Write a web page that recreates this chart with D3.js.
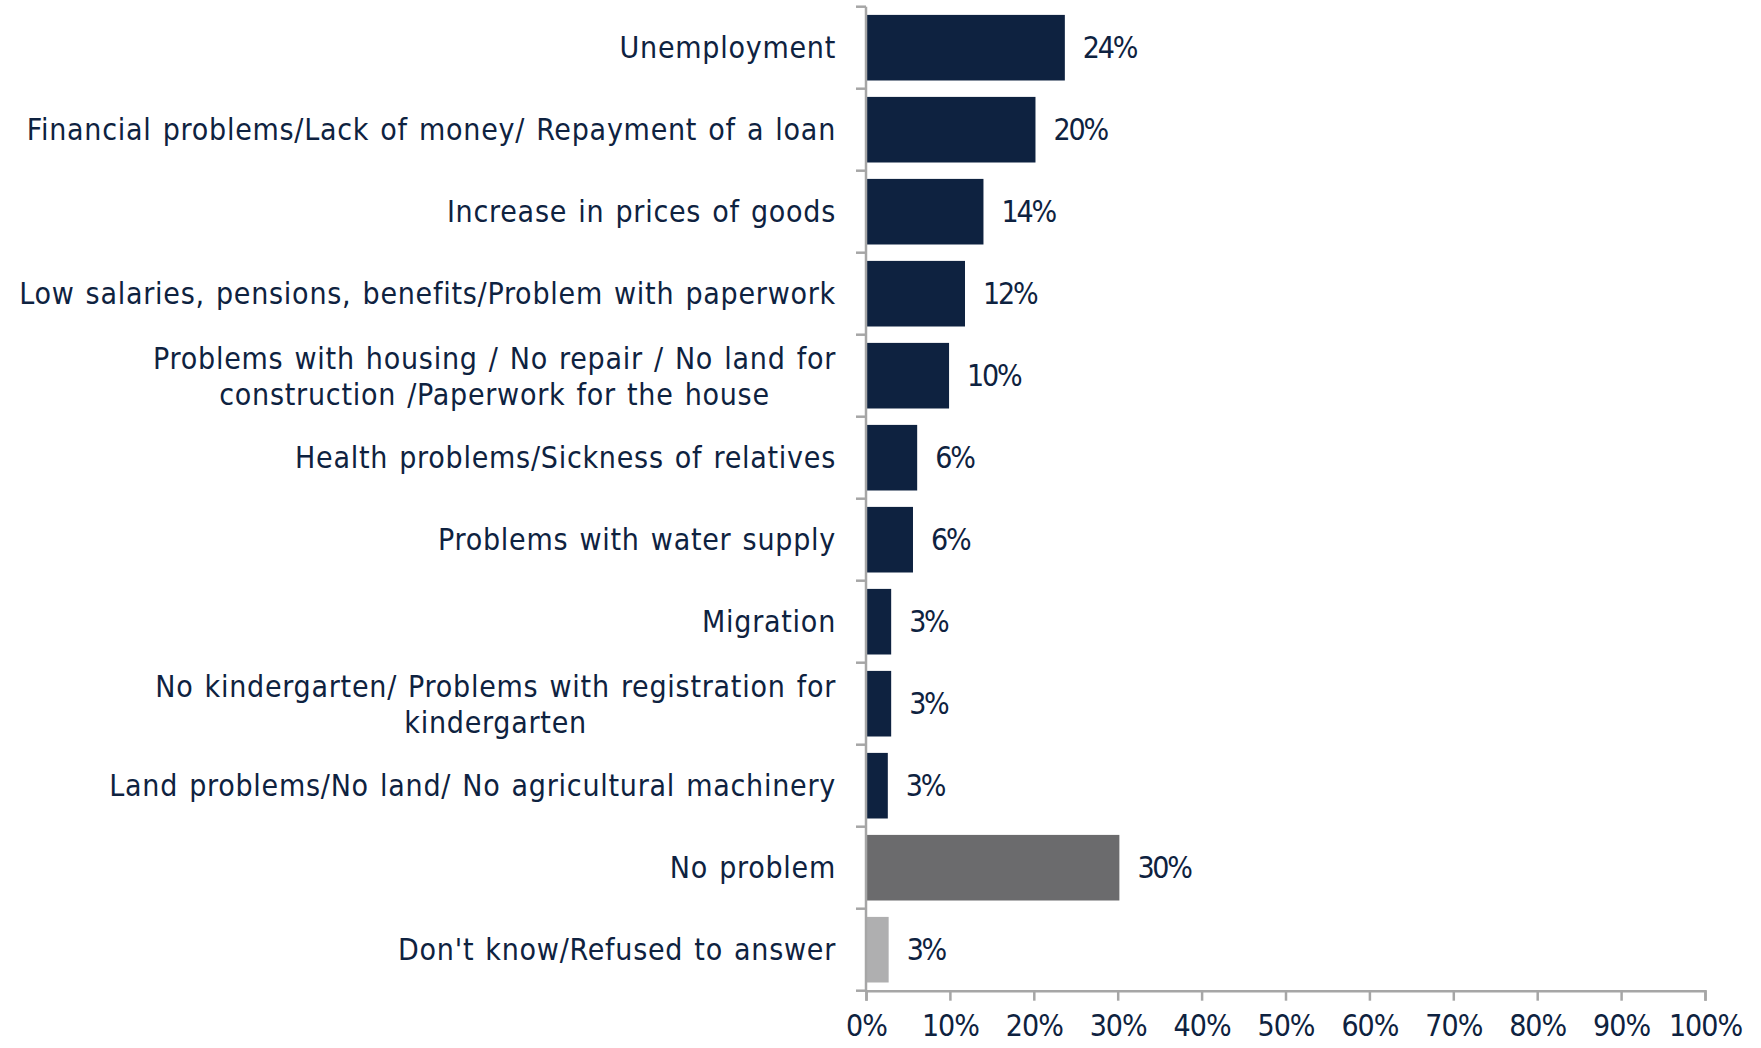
<!DOCTYPE html>
<html>
<head>
<meta charset="utf-8">
<script src="https://cdn.jsdelivr.net/npm/d3@7"></script>
<style>
  html, body { margin: 0; padding: 0; background: #fff; }
  svg { display: block; }
  text { font-family: "DejaVu Sans Condensed", "DejaVu Sans", sans-serif; fill: #0e2240; }
</style>
</head>
<body>
<svg id="chart" width="1761" height="1048"></svg>
<script>
const categories = [
  ["Unemployment"],
  ["Financial problems/Lack of money/ Repayment of a loan"],
  ["Increase in prices of goods"],
  ["Low salaries, pensions, benefits/Problem with paperwork"],
  ["Problems with housing / No repair / No land for", "construction /Paperwork for the house"],
  ["Health problems/Sickness of relatives"],
  ["Problems with water supply"],
  ["Migration"],
  ["No kindergarten/ Problems with registration for", "kindergarten"],
  ["Land problems/No land/ No agricultural machinery"],
  ["No problem"],
  ["Don't know/Refused to answer"]
];
const values = [23.7, 20.2, 14.0, 11.8, 9.9, 6.1, 5.6, 3.0, 3.0, 2.6, 30.2, 2.7];
const valueLabels = ["24%", "20%", "14%", "12%", "10%", "6%", "6%", "3%", "3%", "3%", "30%", "3%"];
const barColors = ["#0e2240", "#0e2240", "#0e2240", "#0e2240", "#0e2240", "#0e2240", "#0e2240", "#0e2240", "#0e2240", "#0e2240", "#6b6b6d", "#afafb0"];
const xTicks = [0, 10, 20, 30, 40, 50, 60, 70, 80, 90, 100];

const svg = d3.select("#chart");
const mLeft = 866, mRight = 1705, mTop = 6.7, mBottom = 990.7;
const fontSize = 30;
const fontFam = '"DejaVu Sans Condensed", "DejaVu Sans", sans-serif';

const x = d3.scaleLinear().domain([0, 100]).range([mLeft, mRight]);
const yb = d3.scaleBand().domain(d3.range(categories.length)).range([mTop, mBottom]);

// bars
svg.append("g").selectAll("rect").data(values).join("rect")
  .attr("x", x(0))
  .attr("y", (d, i) => yb(i) + yb.bandwidth() * 0.1)
  .attr("width", d => x(d) - x(0))
  .attr("height", yb.bandwidth() * 0.8)
  .attr("fill", (d, i) => barColors[i]);

// x axis
const xAxis = d3.axisBottom(x).tickValues(xTicks).tickFormat(d => d + "%").tickSize(10).tickPadding(14);
const gx = svg.append("g").attr("transform", `translate(0,${mBottom})`).call(xAxis);
gx.select(".domain").attr("stroke", "#a6a6a6").attr("stroke-width", 2.5);
gx.selectAll(".tick line").attr("stroke", "#a6a6a6").attr("stroke-width", 2.5);
gx.selectAll(".tick text").attr("font-size", fontSize).attr("fill", "#0e2240").attr("font-family", fontFam)
  .attr("letter-spacing", -1);

// y axis line and ticks at band boundaries
const gy = svg.append("g");
gy.append("line").attr("x1", mLeft).attr("x2", mLeft).attr("y1", mTop).attr("y2", mBottom)
  .attr("stroke", "#a6a6a6").attr("stroke-width", 2.5);
const boundaries = d3.range(categories.length + 1).map(i => mTop + i * yb.step());
gy.selectAll("line.tk").data(boundaries).join("line").attr("class", "tk")
  .attr("x1", mLeft - 10).attr("x2", mLeft).attr("y1", d => d).attr("y2", d => d)
  .attr("stroke", "#a6a6a6").attr("stroke-width", 2.5);

// category labels
const labelRight = 836;
const lineH = 36;
categories.forEach((lines, i) => {
  const cy = yb(i) + yb.bandwidth() / 2;
  const t = svg.append("text").attr("font-size", fontSize).attr("dominant-baseline", "central")
    .attr("letter-spacing", 0.75).attr("word-spacing", 1.8);
  if (lines.length === 1) {
    t.attr("text-anchor", "end").attr("x", labelRight).attr("y", cy).text(lines[0]);
  } else {
    t.attr("text-anchor", "middle");
    const spans = lines.map((ln, k) => t.append("tspan").attr("y", cy + (k - (lines.length - 1) / 2) * lineH).text(ln));
    const w = d3.max(spans, s => s.node().getComputedTextLength());
    spans.forEach(s => s.attr("x", labelRight - w / 2));
  }
});

// value labels
svg.append("g").selectAll("text").data(values).join("text")
  .attr("x", d => x(d) + 18)
  .attr("y", (d, i) => yb(i) + yb.bandwidth() / 2)
  .attr("dominant-baseline", "central")
  .attr("font-size", fontSize)
  .attr("letter-spacing", -2.2)
  .text((d, i) => valueLabels[i]);
</script>
</body>
</html>
